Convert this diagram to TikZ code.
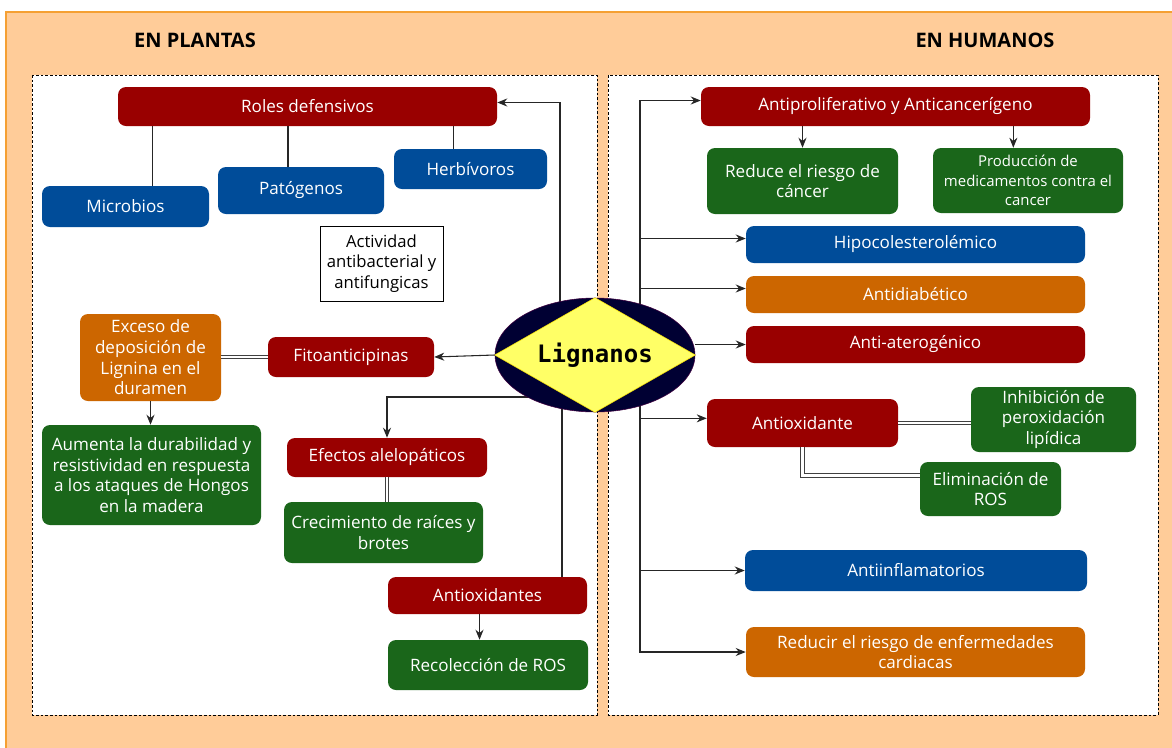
\documentclass[tikz,border=0pt]{standalone}
\usepackage{fontspec}
\setmainfont{Open Sans}
\newfontfamily\monofuente{DejaVu Sans Mono}
\usetikzlibrary{shapes.geometric,arrows.meta}

\definecolor{rojo}{HTML}{990000}
\definecolor{azul}{HTML}{004C99}
\definecolor{verde}{HTML}{1A661A}
\definecolor{naranja}{HTML}{CC6600}
\definecolor{fondo}{HTML}{FFCC99}
\definecolor{borde}{HTML}{F5A033}
\definecolor{amarillo}{HTML}{FFFF66}
\definecolor{marino}{HTML}{000033}

\begin{document}
\begin{tikzpicture}[x=0.75pt,y=-0.75pt,
    caja/.style={rounded corners=6pt, text=white, align=center, inner sep=1pt, font=\fontsize{12.8}{15.5}\selectfont},
    tam/.style 2 args={minimum width=#1*0.75pt, minimum height=#2*0.75pt},
    cajarojo/.style={caja, fill=rojo},
    cajaazul/.style={caja, fill=azul},
    cajaverde/.style={caja, fill=verde},
    cajanaranja/.style={caja, fill=naranja},
    panel/.style={draw=black, fill=white, line width=0.6pt, dash pattern=on 2pt off 1.5pt},
    titulo/.style={font=\bfseries\fontsize{15}{15}\selectfont},
    linea/.style={draw=black!85, line width=0.8pt},
    flecha/.style={linea, -{Stealth[length=7.5pt,width=6pt]}},
    doble/.style={draw=black!75, double=white, double distance=2pt, line width=0.7pt}]
  \useasboundingbox (0,0) rectangle (1172,747);
  % fondo y paneles
  \fill[white] (0,0) rectangle (1172,747);
  \draw[borde, fill=fondo, line width=1pt] (6,12) rectangle (1180,760);
  \draw[panel] (32,75) rectangle (597,715);
  \draw[panel] (608,75) rectangle (1158,715);
  \node[titulo] (tplantas) at (195,40) {EN PLANTAS};
  \node[titulo] (thumanos) at (985,40) {EN HUMANOS};

  % en plantas
  \node[cajarojo, tam={379}{39}] (roles) at (307.5,106.5) {Roles defensivos};
  \node[cajaazul, tam={167}{41}] (microbios) at (125.5,206.5) {Microbios};
  \node[cajaazul, tam={166}{47}] (patogenos) at (301,190.5) {Patógenos};
  \node[cajaazul, tam={153}{40}] (herbivoros) at (470.5,169) {Herbívoros};
  \node[draw=black, line width=0.75pt, align=center, inner sep=1pt, font=\fontsize{12.5}{15.5}\selectfont, tam={123}{75}] (actividad) at (381.5,263.5) {Actividad\\antibacterial y\\antifungicas};
  \node[cajanaranja, tam={141}{87}] (exceso) at (150.5,357.5) {Exceso de\\deposición de\\Lignina en el\\duramen};
  \node[cajarojo, tam={166}{40}] (fito) at (351,357) {Fitoanticipinas};
  \node[cajaverde, tam={219}{100}] (aumenta) at (151.5,475) {Aumenta la durabilidad y\\resistividad en respuesta\\a los ataques de Hongos\\en la madera};
  \node[cajarojo, tam={200}{39}] (efectos) at (387,457.5) {Efectos alelopáticos};
  \node[cajaverde, tam={199}{61}] (crecimiento) at (383.5,532.5) {Crecimiento de raíces y\\brotes};
  \node[cajarojo, tam={199}{37}] (antioxp) at (487.5,595.5) {Antioxidantes};
  \node[cajaverde, tam={200}{50}] (recoleccion) at (488,665) {Recolección de ROS};

  % en humanos
  \node[cajarojo, tam={389}{39}] (antiprolif) at (895.5,106.5) {Antiproliferativo y Anticancerígeno};
  \node[cajaverde, tam={191}{66}] (reduce) at (802.5,181) {Reduce el riesgo de\\cáncer};
  \node[cajaverde, tam={190}{65}, font=\fontsize{11.2}{14.5}\selectfont] (produccion) at (1028,180.5) {Producción de\\medicamentos contra el\\cancer};
  \node[cajaazul, tam={339}{37}] (hipocol) at (915.5,244.5) {Hipocolesterolémico};
  \node[cajanaranja, tam={339}{37}] (antidiab) at (915.5,294.5) {Antidiabético};
  \node[cajarojo, tam={339}{37}] (antiater) at (915.5,344.5) {Anti-aterogénico};
  \node[cajarojo, tam={191}{48}] (antioxh) at (802.5,423) {Antioxidante};
  \node[cajaverde, tam={165}{65}] (inhibicion) at (1053.5,419.5) {Inhibición de\\peroxidación\\lipídica};
  \node[cajaverde, tam={141}{54}] (eliminacion) at (990.5,489) {Eliminación de\\ROS};
  \node[cajaazul, tam={342}{41}] (antiinfl) at (916,570.5) {Antiinflamatorios};
  \node[cajanaranja, tam={339}{50}] (reducir) at (915.5,652) {Reducir el riesgo de enfermedades\\cardiacas};

  % conectores que salen de detras de Lignanos
  \coordinate (salidaA) at (560,355);
  \coordinate (salidaB) at (562,355);
  \coordinate (salidaE) at (595,397);
  \coordinate (troncoH) at (640,355);
  \draw[flecha] (salidaA) |- ([yshift=3pt]roles.east);
  \draw[linea] (salidaB) -- (salidaB |- antioxp.north);
  \draw[flecha] (salidaE) -| (efectos.north);
  \draw[flecha] (troncoH) |- ([yshift=4.5pt]antiprolif.west);
  \draw[flecha] (troncoH) |- ([yshift=4.5pt]hipocol.west);
  \draw[flecha] (troncoH) |- ([yshift=4.5pt]antidiab.west);
  \draw[flecha] (troncoH) |- ([yshift=3.5pt]antioxh.west);
  \draw[flecha] (troncoH) |- (antiinfl.west);
  \draw[flecha] (troncoH) |- (reducir.west);

  % Lignanos
  \node[ellipse, fill=marino, draw=violet!50!black, minimum width=150pt, minimum height=85.5pt, inner sep=0pt] (lig) at (595,355) {};
  \draw[fill=amarillo, draw=yellow!90!orange] (lig.west) -- (lig.north) -- (lig.east) -- (lig.south) -- cycle;
  \node[font=\monofuente\bfseries\fontsize{18}{18}\selectfont] (lignanos) at (lig) {Lignanos};

  % conectores
  \draw[linea] ([xshift=20pt]microbios.north) -- ([xshift=20pt]microbios.north |- roles.south);
  \draw[linea] ([xshift=-9.75pt]patogenos.north) -- ([xshift=-9.75pt]patogenos.north |- roles.south);
  \draw[linea] ([xshift=-13pt]herbivoros.north) -- ([xshift=-13pt]herbivoros.north |- roles.south);
  \draw[flecha] (lig.west) -- (fito.east);
  \draw[doble] (fito.west) -- (exceso.east |- fito.west);
  \draw[flecha] (exceso.south) -- (exceso.south |- aumenta.north);
  \draw[doble] (efectos.south) -- (efectos.south |- crecimiento.north);
  \draw[flecha] ([xshift=-6pt]antioxp.south) -- ([xshift=-6pt]antioxp.south |- recoleccion.north);
  \draw[flecha] (antiater.west -| lig.east) -- (antiater.west);
  \draw[flecha] (reduce.north |- antiprolif.south) -- (reduce.north);
  \draw[flecha] ([xshift=-11pt]produccion.north |- antiprolif.south) -- ([xshift=-11pt]produccion.north);
  \draw[doble] (antioxh.east) -- (antioxh.east -| inhibicion.west);
  \draw[doble] (antioxh.south) |- ([yshift=10pt]eliminacion.west);
\end{tikzpicture}
\end{document}
